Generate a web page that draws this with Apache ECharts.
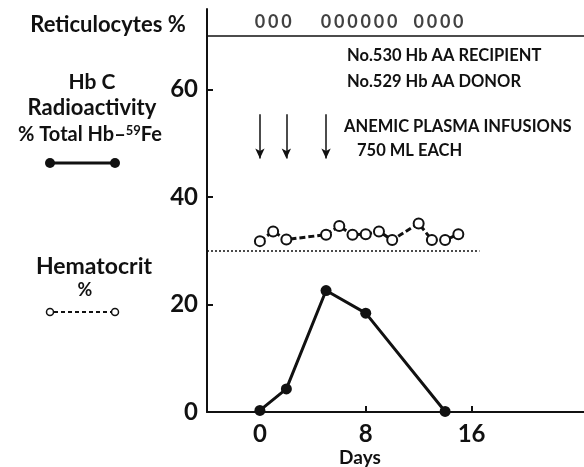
<!DOCTYPE html>
<html><head><meta charset="utf-8">
<script src="https://cdn.jsdelivr.net/npm/echarts@6/dist/echarts.min.js"></script>
<style>html,body{margin:0;padding:0;background:#fff}#c{width:584px;height:467px}</style>
</head><body><div id="c"></div>
<script>
// Data
const hbcDays = [0, 2, 5, 8, 14];
const hbcValues = [0.3, 4.3, 22.6, 18.4, 0.1];
const hctDays = [0, 1, 2, 5, 6, 7, 8, 9, 10, 12, 13, 14, 15];
const hctValues = [31.8, 33.6, 32.1, 33.0, 34.6, 33.0, 33.1, 33.6, 32.0, 35.1, 32.0, 32.0, 33.1];
const retDays = [0, 1, 2, 5, 6, 7, 8, 9, 10, 12, 13, 14, 15];
const retValues = [0, 0, 0, 0, 0, 0, 0, 0, 0, 0, 0, 0, 0];
const infusionDays = [0, 2, 5];
const xTicks = [0, 8, 16];
const yTicks = [0, 20, 40, 60];
const retRowY = 72.6;
const topLineY = 70;
const hctRefY = 30;
const hctRefEnd = 16.6;
const arrowTop = 55.4, arrowBottom = 47.2;

const FONT = 'Lato';
const chart = echarts.init(document.getElementById('c'));
const txt = (x, y, s, size, align) => ({
  type: 'text', x: x, y: y,
  style: { text: s, font: 'bold ' + size + 'px ' + FONT, fill: '#111', textAlign: align || 'center', textVerticalAlign: 'middle' }
});
chart.setOption({
  animation: false,
  grid: { left: 207, right: 0, top: 9, bottom: 55, containLabel: false },
  xAxis: {
    type: 'value', min: -4, max: 24.5,
    axisLine: { onZero: false, lineStyle: { color: '#111', width: 2 } },
    splitLine: { show: false },
    axisTick: { inside: true, length: 6, lineStyle: { color: '#111', width: 2 }, customValues: xTicks },
    axisLabel: { customValues: xTicks, color: '#111', fontSize: 24, fontWeight: 'bold', fontFamily: FONT, margin: 10 }
  },
  yAxis: {
    type: 'value', min: 0, max: 75,
    axisLine: { show: true, onZero: false, lineStyle: { color: '#111', width: 2 } },
    splitLine: { show: false },
    axisTick: { show: true, inside: true, length: 6, lineStyle: { color: '#111', width: 2 }, customValues: yTicks },
    axisLabel: { customValues: yTicks, color: '#111', fontSize: 24, fontWeight: 'bold', fontFamily: FONT, margin: 9 }
  },
  series: [
    {
      type: 'line', data: hbcDays.map((d, i) => [d, hbcValues[i]]),
      symbol: 'circle', symbolSize: 11, itemStyle: { color: '#111' },
      lineStyle: { color: '#111', width: 3 }, z: 5
    },
    {
      type: 'line', data: hctDays.map((d, i) => [d, hctValues[i]]),
      symbol: 'circle', symbolSize: 10,
      itemStyle: { color: '#fff', borderColor: '#111', borderWidth: 2 },
      lineStyle: { color: '#111', width: 3, type: [6, 3] }, z: 5,
      markLine: {
        silent: true, symbol: 'none', animation: false,
        label: { show: false },
        data: [
          [{ coord: [-4, hctRefY], lineStyle: { type: [2, 2], width: 1.5, color: '#111' } }, { coord: [hctRefEnd, hctRefY] }],
          { yAxis: topLineY, lineStyle: { type: 'solid', width: 1.5, color: '#111' } }
        ]
      }
    },
    {
      type: 'scatter', symbolSize: 2, itemStyle: { color: 'rgba(255,255,255,0)' },
      data: retDays.map((d, i) => ({ value: [d, retRowY], label: { show: true, formatter: String(retValues[i]) } })),
      label: { show: true, position: 'inside', color: '#111', fontSize: 18, fontWeight: 'bold', fontFamily: FONT }
    },
    {
      type: 'line', data: [], symbol: 'none',
      markLine: {
        silent: true, symbol: ['none', 'arrow'], symbolSize: [7, 10], animation: false,
        label: { show: false },
        lineStyle: { type: 'solid', width: 1.5, color: '#111' },
        data: infusionDays.map(d => [{ coord: [d, arrowTop] }, { coord: [d, arrowBottom] }])
      }
    }
  ],
  graphic: [
    txt(108, 25, 'Reticulocytes %', 22),
    txt(92, 82, 'Hb C', 21),
    txt(92, 108, 'Radioactivity', 22),
    { type: 'text', x: 90, y: 135, style: { rich: { a: { font: 'bold 20px ' + FONT, fill: '#111' }, s: { font: 'bold 13px ' + FONT, fill: '#111', verticalAlign: 'top', padding: [0, 0, 8, 0] } }, text: '{a|% Total Hb\u2013}{s|59}{a|Fe}', textAlign: 'center', textVerticalAlign: 'middle' } },
    { type: 'line', shape: { x1: 50, y1: 163, x2: 115, y2: 163 }, style: { stroke: '#111', lineWidth: 3 } },
    { type: 'circle', shape: { cx: 50, cy: 163, r: 5 }, style: { fill: '#111' } },
    { type: 'circle', shape: { cx: 115, cy: 163, r: 5 }, style: { fill: '#111' } },
    txt(94, 267, 'Hematocrit', 23),
    txt(85, 290, '%', 18),
    { type: 'line', shape: { x1: 54, y1: 312, x2: 111, y2: 312 }, style: { stroke: '#111', lineWidth: 2, lineDash: [4, 3] } },
    { type: 'circle', shape: { cx: 50, cy: 312, r: 3.5 }, style: { fill: '#fff', stroke: '#111', lineWidth: 1.5 } },
    { type: 'circle', shape: { cx: 115, cy: 312, r: 3.5 }, style: { fill: '#fff', stroke: '#111', lineWidth: 1.5 } },
    txt(347, 56, 'No.530 Hb AA RECIPIENT', 16.5, 'left'),
    txt(347, 82, 'No.529 Hb AA DONOR', 16.5, 'left'),
    txt(344, 127, 'ANEMIC PLASMA INFUSIONS', 16.5, 'left'),
    txt(357, 151, '750 ML EACH', 16.5, 'left'),
    txt(360, 458, 'Days', 19)
  ]
});
</script></body></html>
